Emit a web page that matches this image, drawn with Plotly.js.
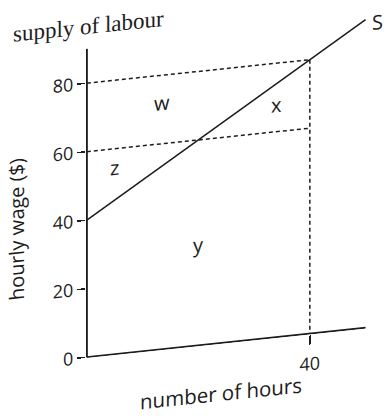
<!DOCTYPE html>
<html>
<head>
<meta charset="utf-8">
<script src="https://cdn.plot.ly/plotly-3.0.1.min.js"></script>
<style>
  html, body { margin: 0; padding: 0; background: #fff; overflow: hidden; width: 390px; height: 416px; }
  /* the printed diagram leans slightly upward to the right */
  #wrap { width: 390px; height: 430px; transform: skewY(-6deg); transform-origin: 87px 357px; }
  #chart { width: 390px; height: 430px; }
</style>
</head>
<body>
<div id="wrap"><div id="chart"></div></div>
<script>
// Labour supply curve S and the wage areas w, x, y, z
const wageTicks = [0, 20, 40, 60, 80];
const hourTicks = [40];
const supplyHours = [0, 50];
const supplyWage = [40, 90];
const hoursWorked = 40;
const wageLow = 60;
const wageHigh = 80;
const xAxisEnd = 50;
const yAxisEnd = 90;
const areaNames = ['w', 'x', 'y', 'z'];

const ink = '#1c1c1c';
const sans = 'Open Sans, Liberation Sans, Arial, sans-serif';

const dashLine = { color: ink, width: 1.5, dash: '4px,3px' };

const traces = [
  { x: [0, hoursWorked], y: [wageHigh, wageHigh], mode: 'lines', line: dashLine, hoverinfo: 'skip' },
  { x: [0, hoursWorked], y: [wageLow, wageLow], mode: 'lines', line: dashLine, hoverinfo: 'skip' },
  { x: [hoursWorked, hoursWorked], y: [wageHigh, 0], mode: 'lines', line: dashLine, hoverinfo: 'skip' },
  { x: supplyHours, y: supplyWage, mode: 'lines', line: { color: ink, width: 1.7 }, hoverinfo: 'skip' }
];

const areaPos = {
  w: [13.5, 72],
  x: [34, 68],
  y: [20, 29.5],
  z: [5, 54.5]
};

const annotations = areaNames.map(n => ({
  x: areaPos[n][0], y: areaPos[n][1], xref: 'x', yref: 'y',
  text: n, showarrow: false, font: { family: sans, size: 20, color: ink }
}));

annotations.push(
  { x: supplyHours[1] + 2.2, y: supplyWage[1] - 1, xref: 'x', yref: 'y', text: 'S',
    showarrow: false, font: { family: sans, size: 20, color: ink } },
  { x: -0.228, y: 39.5, xref: 'paper', yref: 'y', text: 'hourly wage ($)', textangle: -90,
    xanchor: 'center', yanchor: 'middle',
    showarrow: false, font: { family: sans, size: 20, color: ink } },
  { x: 24, y: -0.155, xref: 'x', yref: 'paper', text: 'number of hours', xanchor: 'center', yanchor: 'middle',
    showarrow: false, font: { family: sans, size: 20.5, color: ink } },
  { x: -0.25, y: 1.05, xref: 'paper', yref: 'paper', text: 'supply of labour', xanchor: 'left', yanchor: 'middle',
    showarrow: false, font: { family: 'Liberation Serif, Times New Roman, serif', size: 23, color: ink } }
);

const shapes = [
  { type: 'line', xref: 'x', yref: 'y', x0: 0, y0: 0, x1: xAxisEnd, y1: 0, line: { color: ink, width: 2 } },
  { type: 'line', xref: 'x', yref: 'y', x0: 0, y0: 0, x1: 0, y1: yAxisEnd, line: { color: ink, width: 2 } }
];

const layout = {
  width: 390, height: 430,
  margin: { l: 86, r: 2, t: 42, b: 72 },
  paper_bgcolor: '#fff', plot_bgcolor: '#fff',
  showlegend: false,
  xaxis: {
    range: [-0.15, 54.02], showgrid: false, zeroline: false, showline: false,
    tickmode: 'array', tickvals: hourTicks, ticktext: hourTicks.map(String),
    ticks: 'outside', ticklen: 9, tickwidth: 1.5, tickcolor: ink, ticklabelstandoff: 4,
    tickfont: { family: sans, size: 18, color: ink }
  },
  yaxis: {
    range: [-0.25, 92.01], showgrid: false, zeroline: false, showline: false,
    tickmode: 'array', tickvals: wageTicks, ticktext: wageTicks.map(String),
    ticks: 'outside', ticklen: 8, tickwidth: 1.5, tickcolor: ink,
    tickfont: { family: sans, size: 18, color: ink }
  },
  shapes: shapes,
  annotations: annotations
};

Plotly.newPlot('chart', traces, layout, { displayModeBar: false, staticPlot: true });
</script>
</body>
</html>
